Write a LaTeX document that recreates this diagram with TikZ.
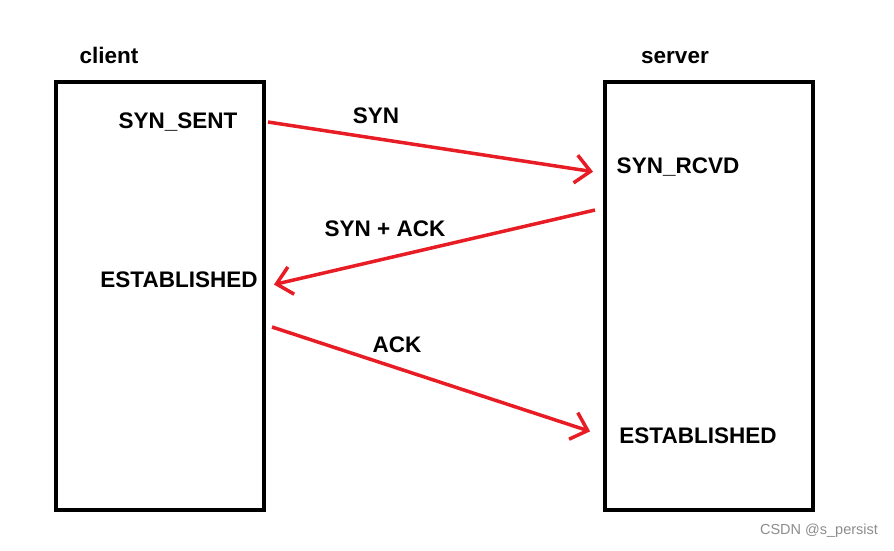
\documentclass[tikz,border=0pt]{standalone}
\usepackage{fontspec}
\setmainfont{Liberation Sans}
\usetikzlibrary{arrows.meta}
\definecolor{msgred}{RGB}{232,28,36}
\tikzset{
  side/.style={draw,line width=4.5pt,minimum width=208pt,minimum height=428pt,inner sep=0pt},
  state/.style={font=\fontsize{22.5}{26}\selectfont\bfseries,inner sep=0pt},
  msg/.style={->,>={Straight Barb[length=15pt,width=28pt,line width=3.5pt]},draw=msgred,line width=3.5pt,shorten >=2pt},
}
\begin{document}
\begin{tikzpicture}[x=1pt,y=-1pt]
\useasboundingbox (0,0) rectangle (894,550);

\node[side](client box) at (160,296) {};
\node[side](server box) at (709,296) {};

\node[state](client) at (109,55) {client};
\node[state](server) at (675,58) {server};

\node[state](syn sent) at (178,122) {SYN\_SENT};
\node[state](syn rcvd) at (678,167) {SYN\_RCVD};
\node[state](est client) at (179,280) {ESTABLISHED};
\node[state](est server) at (698,436) {ESTABLISHED};

\node[state](syn) at (376,116) {SYN};
\node[state](synack) at (385,229) {SYN + ACK};
\node[state](ack) at (397,345) {ACK};

\coordinate (syn from) at (268,122);
\coordinate (syn to) at (595,172);
\coordinate (synack from) at (595,210);
\coordinate (synack to) at (272,285);
\coordinate (ack from) at (272,327);
\coordinate (ack to) at (592,432);

\draw[msg] (syn from) to (syn to);
\draw[msg] (synack from) to (synack to);
\draw[msg] (ack from) to (ack to);

\node[font=\fontsize{14.5}{17}\selectfont,text=black!45](mark) at (819,531) {CSDN @s\_persist};

\end{tikzpicture}
\end{document}
